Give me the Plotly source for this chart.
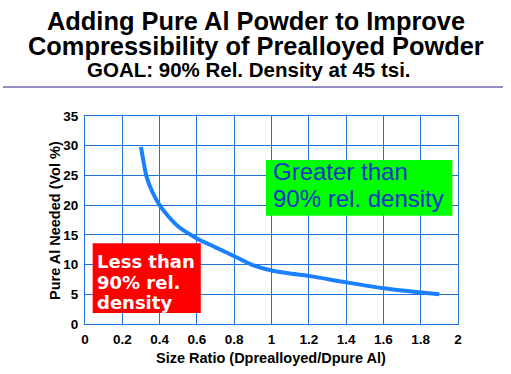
import plotly.graph_objects as go

# Data
size_ratio = [0.30, 0.33, 0.36, 0.40, 0.45, 0.50, 0.60, 0.70, 0.80, 0.90, 1.00, 1.10, 1.20, 1.40, 1.60, 1.80, 1.90]
al_needed = [29.8, 24.8, 22.3, 20.0, 18.0, 16.4, 14.4, 12.9, 11.4, 9.9, 9.0, 8.5, 8.1, 7.0, 6.0, 5.3, 5.0]

x_ticks = [0, 0.2, 0.4, 0.6, 0.8, 1, 1.2, 1.4, 1.6, 1.8, 2]
x_tick_labels = ["0", "0.2", "0.4", "0.6", "0.8", "1", "1.2", "1.4", "1.6", "1.8", "2"]
y_ticks = [0, 5, 10, 15, 20, 25, 30, 35]

title_lines = ["Adding Pure Al Powder to Improve", "Compressibility of Prealloyed Powder"]
subtitle = "GOAL: 90% Rel. Density at 45 tsi."
x_title = "Size Ratio (Dprealloyed/Dpure Al)"
y_title = "Pure Al Needed (Vol %)"
green_lines = ["Greater than", "90% rel. density"]
red_lines = ["Less than", "90% rel.", "density"]

GRID = "#1e73d8"
CURVE = "#1a80ff"
BOLD = "Liberation Sans"

L, R, T, B = 85, 53, 116, 50
W, H = 511, 374
PW, PH = W - L - R, H - T - B


def py(p):
    return (H - B - p) / PH


def px(p):
    return (p - L) / PW


fig = go.Figure()
fig.add_trace(go.Scatter(
    x=size_ratio, y=al_needed, mode="lines",
    line=dict(color=CURVE, width=4, shape="spline", smoothing=0.6),
    hoverinfo="skip", showlegend=False,
))

shapes = [
    # green region label box
    dict(type="rect", xref="x", yref="y", x0=0.97, x1=1.97, y0=18.2, y1=27.6,
         fillcolor="#00ff00", line=dict(width=0), layer="above"),
    # red region label box
    dict(type="rect", xref="x", yref="y", x0=0.041, x1=0.621, y0=1.85, y1=13.6,
         fillcolor="#ff0000", line=dict(width=0), layer="above"),
    # separator line under titles
    dict(type="line", xref="paper", yref="paper", x0=px(3), x1=px(503), y0=py(87), y1=py(87),
         line=dict(color="#20208a", width=1)),
]

annotations = []
for txt, yc in zip(title_lines, [21, 46]):
    annotations.append(dict(text=txt, xref="paper", yref="paper",
                            x=px(255.5), y=py(yc), xanchor="center", yanchor="middle",
                            showarrow=False,
                            font=dict(family=BOLD, size=25.4, color="black", weight="bold")))
annotations.append(dict(text=subtitle, xref="paper", yref="paper",
                        x=px(248.5), y=py(70), xanchor="center", yanchor="middle",
                        showarrow=False,
                        font=dict(family=BOLD, size=20.5, color="black", weight="bold")))
annotations.append(dict(text=x_title, xref="paper", yref="paper",
                        x=px(271), y=py(358), xanchor="center", yanchor="middle",
                        showarrow=False,
                        font=dict(family=BOLD, size=14.5, color="black", weight="bold")))
annotations.append(dict(text=y_title, xref="paper", yref="paper",
                        x=px(55), y=py(221), xanchor="center", yanchor="middle", textangle=-90,
                        showarrow=False,
                        font=dict(family=BOLD, size=14.5, color="black", weight="bold")))
for txt, yv in zip(green_lines, [25.6, 21.2]):
    annotations.append(dict(text=txt, xref="x", yref="y", x=0.995, y=yv,
                            xanchor="left", yanchor="middle", showarrow=False,
                            font=dict(family="Liberation Sans", size=24, color="#1434c8")))
for txt, yv in zip(red_lines, [10.5, 7.05, 3.7]):
    annotations.append(dict(text=txt, xref="x", yref="y", x=0.055, y=yv,
                            xanchor="left", yanchor="middle", showarrow=False,
                            font=dict(family="DejaVu Sans", size=18, color="white", weight="bold")))

tickfont = dict(family=BOLD, size=13.5, color="black", weight="bold")
fig.update_layout(
    width=W, height=H,
    margin=dict(l=L, r=R, t=T, b=B, pad=0),
    paper_bgcolor="white", plot_bgcolor="white",
    shapes=shapes, annotations=annotations,
    xaxis=dict(range=[0, 2], tickvals=x_ticks, ticktext=x_tick_labels,
               showgrid=True, gridcolor=GRID, gridwidth=1, zeroline=False,
               showline=True, linecolor=GRID, linewidth=1, mirror=True,
               ticks="outside", ticklen=3, tickcolor="rgba(0,0,0,0)",
               tickfont=tickfont),
    yaxis=dict(range=[0, 35], tickvals=y_ticks,
               showgrid=True, gridcolor=GRID, gridwidth=1, zeroline=False,
               showline=True, linecolor=GRID, linewidth=1, mirror=True,
               ticks="outside", ticklen=3, tickcolor="rgba(0,0,0,0)",
               tickfont=tickfont),
)

fig.write_html(
    "out.html",
    config={"displayModeBar": False},
    post_script="document.body.style.margin='0px';document.body.style.padding='0px';document.body.style.overflow='hidden';",
)
